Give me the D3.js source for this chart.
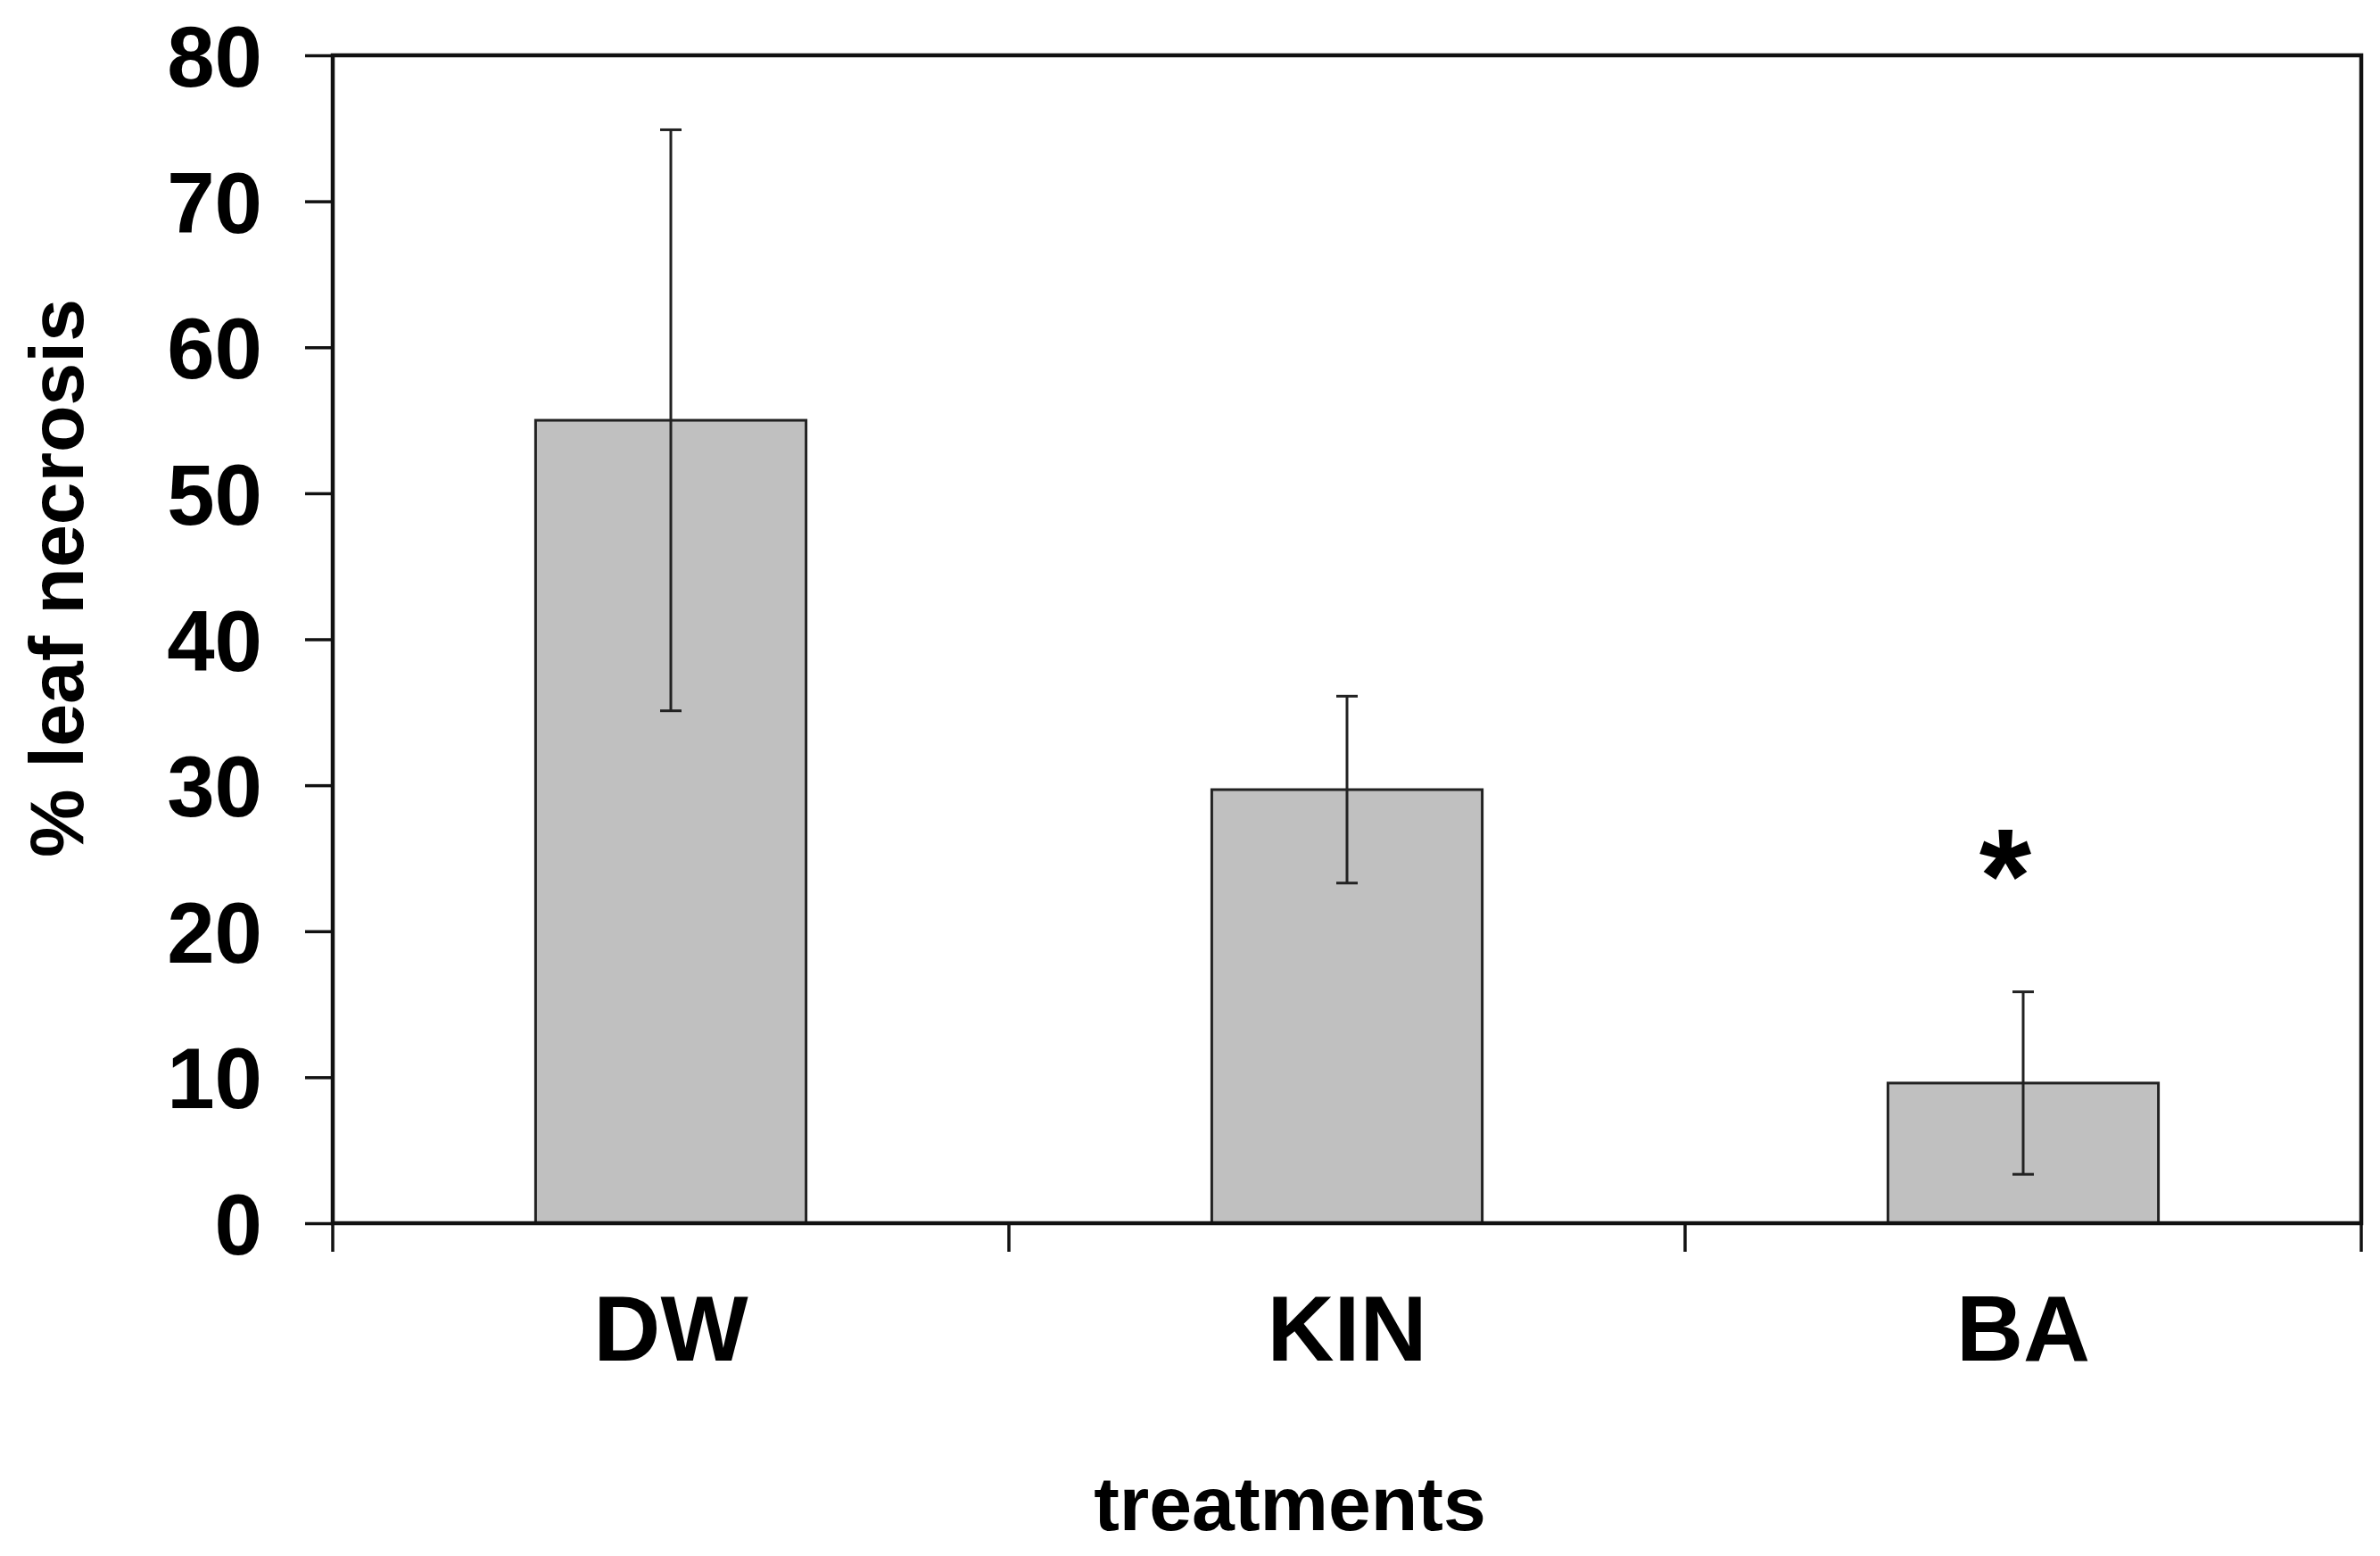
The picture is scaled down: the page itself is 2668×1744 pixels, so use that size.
<!DOCTYPE html>
<html><head><meta charset="utf-8">
<script src="https://cdn.jsdelivr.net/npm/d3@7"></script>
<style>body{margin:0;background:#fff}svg{display:block}</style>
</head><body>
<svg id="chart" width="2668" height="1744"></svg>
<script>
const categories = ["DW", "KIN", "BA"];
const means = [55, 29.7, 9.6];
const errors = [19.9, 6.4, 6.25];
const significance = ["", "", "*"];
const yTicks = [0, 10, 20, 30, 40, 50, 60, 70, 80];
const yLabel = "% leaf necrosis";
const xLabel = "treatments";

const W = 2668, H = 1744;
const m = {left: 373, right: W - 2647, top: 62, bottom: H - 1371};
const FONT = "'Liberation Sans', Arial, Helvetica, sans-serif";
const data = categories.map((c, i) => ({c, v: means[i], e: errors[i], s: significance[i]}));

const svg = d3.select("#chart");
svg.append("rect").attr("width", W).attr("height", H).attr("fill", "#fff");

const x = d3.scaleBand().domain(categories)
  .range([m.left, W - m.right]).paddingInner(0.6).paddingOuter(0.3);
const y = d3.scaleLinear().domain([0, 80]).range([H - m.bottom, m.top]);

// bars
svg.append("g").selectAll("rect").data(data).join("rect")
  .attr("x", d => x(d.c)).attr("y", d => y(d.v))
  .attr("width", x.bandwidth()).attr("height", d => y(0) - y(d.v))
  .attr("fill", "#c0c0c0").attr("stroke", "#222").attr("stroke-width", 3);

// error bars
const eb = svg.append("g").attr("stroke", "#222").attr("stroke-width", 3);
const cx = d => x(d.c) + x.bandwidth() / 2;
eb.selectAll("line.v").data(data).join("line").attr("class", "v")
  .attr("x1", cx).attr("x2", cx)
  .attr("y1", d => y(d.v + d.e)).attr("y2", d => y(d.v - d.e));
eb.selectAll("line.t").data(data).join("line").attr("class", "t")
  .attr("x1", d => cx(d) - 12).attr("x2", d => cx(d) + 12)
  .attr("y1", d => y(d.v + d.e)).attr("y2", d => y(d.v + d.e));
eb.selectAll("line.b").data(data).join("line").attr("class", "b")
  .attr("x1", d => cx(d) - 12).attr("x2", d => cx(d) + 12)
  .attr("y1", d => y(d.v - d.e)).attr("y2", d => y(d.v - d.e));

// significance
svg.append("g").selectAll("text").data(data.filter(d => d.s)).join("text")
  .attr("x", d => cx(d) - 20).attr("y", d => y(d.v + d.e) - 78)
  .attr("text-anchor", "middle").attr("font-family", FONT).attr("font-weight", "bold")
  .attr("font-size", 150).attr("fill", "#000").text(d => d.s);

// y axis
const ya = svg.append("g").attr("transform", `translate(${m.left},0)`)
  .call(d3.axisLeft(y).tickValues(yTicks).tickSize(31).tickPadding(48).tickFormat(d3.format("d")));
ya.select(".domain").remove();
ya.selectAll(".tick line").attr("stroke", "#111").attr("stroke-width", 3.5);
ya.selectAll(".tick text").attr("font-family", FONT).attr("font-weight", "bold")
  .attr("font-size", 96).attr("fill", "#000").attr("dy", "0.36em");

// x category boundary ticks
const bounds = d3.range(categories.length + 1).map(i => x.range()[0] + i * x.step());
svg.append("g").selectAll("line").data(bounds).join("line")
  .attr("x1", d => d).attr("x2", d => d).attr("y1", y(0)).attr("y2", y(0) + 32)
  .attr("stroke", "#111").attr("stroke-width", 3.5);

// x labels
svg.append("g").selectAll("text").data(categories).join("text")
  .attr("x", d => x(d) + x.bandwidth() / 2).attr("y", y(0) + 154)
  .attr("text-anchor", "middle").attr("font-family", FONT).attr("font-weight", "bold")
  .attr("font-size", 104).attr("fill", "#000").text(d => d);

// plot frame
svg.append("rect").attr("x", m.left).attr("y", m.top)
  .attr("width", W - m.right - m.left).attr("height", y(0) - m.top)
  .attr("fill", "none").attr("stroke", "#111").attr("stroke-width", 4.5);

// axis titles
svg.append("text").attr("x", 1446).attr("y", 1715).attr("text-anchor", "middle")
  .attr("font-family", FONT).attr("font-weight", "bold").attr("font-size", 86)
  .attr("fill", "#000").text(xLabel);
svg.append("text").attr("transform", "translate(93,648) rotate(-90)").attr("text-anchor", "middle")
  .attr("font-family", FONT).attr("font-weight", "bold").attr("font-size", 86)
  .attr("fill", "#000").text(yLabel);
</script>
</body></html>
